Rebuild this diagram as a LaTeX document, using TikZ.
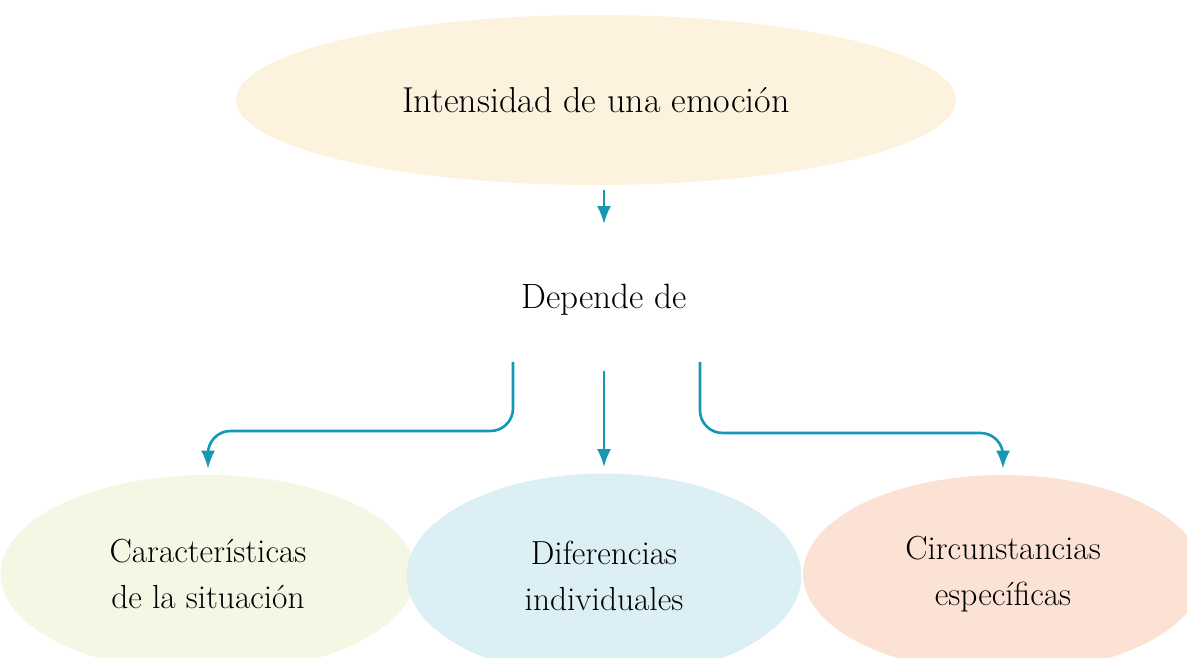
\documentclass[tikz,border=0pt]{standalone}
\usepackage{tikz}
\usetikzlibrary{arrows.meta}
\usetikzlibrary{shapes.geometric}
\usetikzlibrary{calc}

\definecolor{flowblue}{RGB}{22,152,180}
\definecolor{bgtop}{RGB}{252,242,222}
\definecolor{bgleft}{RGB}{245,247,228}
\definecolor{bgmid}{RGB}{220,239,245}
\definecolor{bgright}{RGB}{252,226,212}

\tikzset{
  bubble/.style={ellipse, inner sep=0pt, align=center, font=\fontsize{19}{26}\selectfont},
  flow/.style={-{Latex[length=0.36cm,width=0.28cm]}, flowblue, line width=1.5pt, rounded corners=0.45cm}
}

\begin{document}
\begin{tikzpicture}[x=0.02cm, y=-0.02cm]
  \useasboundingbox (0,0) rectangle (1187,658);
  \clip (0,0) rectangle (1187,658);

  % Draw the top bubble
  \node[bubble, fill=bgtop, minimum width=14.4cm, minimum height=3.4cm,
        font=\fontsize{20.5}{24}\selectfont] (intensidad) at (596,100) {Intensidad de una emoción};

  % Draw the middle label
  \node[inner sep=0pt, font=\fontsize{20}{24}\selectfont] (depende) at (604,300) {Depende de};

  % Draw the bottom bubbles
  \node[bubble, fill=bgleft, minimum width=8.3cm, minimum height=3.96cm] (caract) at (208,574) {Características\\de la situación};
  \node[bubble, fill=bgmid, minimum width=7.9cm, minimum height=4.1cm] (difer) at (604,576) {Diferencias\\individuales};
  \node[bubble, fill=bgright, minimum width=8cm, minimum height=3.96cm] (circun) at (1003,574) {Circunstancias\\específicas};

  % Start points of the branches
  \coordinate (lstart) at (513,362);
  \coordinate (rstart) at (700,362);

  % Draw the arrows
  \draw[flow, shorten <=0.1cm, shorten >=1.2cm] (intensidad.south -| depende.north) -- (depende.north);
  \draw[flow, shorten <=1.1cm, shorten >=0.12cm] (depende.south) -- (difer.north);
  \draw[flow, shorten >=0.12cm] (lstart) -- (lstart |- 0,431) -| (caract.north);
  \draw[flow, shorten >=0.12cm] (rstart) -- (rstart |- 0,433) -| (circun.north);

\end{tikzpicture}
\end{document}
